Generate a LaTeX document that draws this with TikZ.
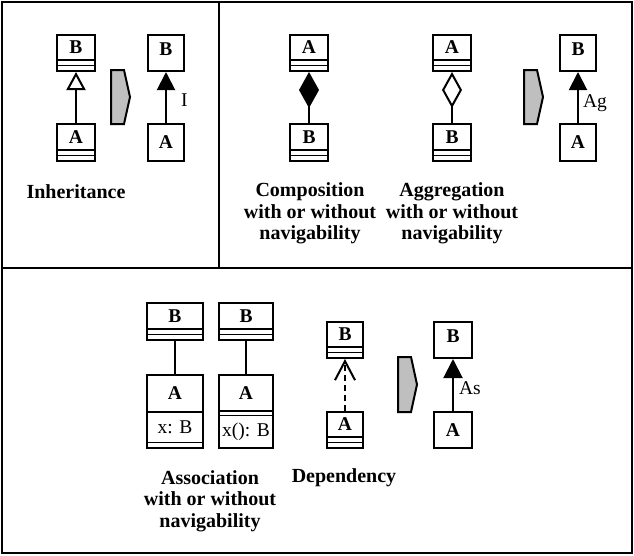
\documentclass[tikz,border=0pt]{standalone}
\usepackage{fontspec}
\setmainfont{Liberation Serif}
\usetikzlibrary{arrows.meta}
\newcommand{\umlclass}[8]{% name, left, top, right, bottom, text, text centre y, compartment lines
  \node[classbox, minimum width={#4-#2}, minimum height={#5-#3}] (#1) at ({(#2+#4)/2},{(#3+#5)/2}) {};
  \node[classname] (#1t) at ({(#2+#4)/2},#7) {#6};
  \foreach \yy in {#8} {\draw[compline] (#2,\yy) -- (#4,\yy);}
}
\begin{document}
\begin{tikzpicture}[x=1pt,y=-1pt,
  line width=2pt,
  classbox/.style={draw, line width=2pt, inner sep=0pt, fill=white},
  classname/.style={font=\bfseries\fontsize{19.5}{19.5}\selectfont, inner sep=0pt},
  compline/.style={line width=1.6pt},
  plain/.style={font=\fontsize{19.5}{21}\selectfont, inner sep=0pt},
  caption/.style={font=\bfseries\fontsize{20}{21.7}\selectfont, align=center, inner sep=0pt},
  grayarrow/.style={draw, fill=black!25, line width=2pt},
  conn/.style={line width=2pt}
]
\useasboundingbox (0,0) rectangle (634,555);
% frames
\draw (1.5,1.5) rectangle (632,553);
\draw (1.5,268) -- (632,268);
\draw (219,1.5) -- (219,268);

% ---------- Inheritance ----------
\umlclass{iB}{57}{35}{95}{71}{B}{47.5}{60,65.5}
\umlclass{iA}{57}{124}{95}{161}{A}{137}{150,155.5}
\draw[conn,-{Triangle[open,length=18pt,width=19pt]}] (iA.north) -- (iB.south);
\draw[grayarrow] (111,70) -- (124,70) -- (130,97) -- (124,124) -- (111,124) -- cycle;
\umlclass{iB2}{148}{35}{184}{71}{B}{49}{}
\umlclass{iA2}{148}{124}{184}{161}{A}{142.5}{}
\draw[conn,-{Triangle[length=18pt,width=18pt]}] (iA2.north) -- (iB2.south) node[plain, pos=0.45, right=14pt] (il) {I};
\node[caption] (inh) at (76,192) {Inheritance};

% ---------- Composition ----------
\umlclass{cA}{290}{35}{328}{71}{A}{47.5}{60,65.5}
\umlclass{cB}{290}{124}{328}{161}{B}{137}{150,155.5}
\draw[conn,{Diamond[length=36pt,width=20pt]}-] (cA.south) -- (cB.north);
\node[caption] (comp) at (310,213.5) {Composition\\with or without\\navigability};

% ---------- Aggregation ----------
\umlclass{gA}{433}{35}{471}{71}{A}{47.5}{60,65.5}
\umlclass{gB}{433}{124}{471}{161}{B}{137}{150,155.5}
\draw[conn,{Diamond[open,length=36pt,width=20pt]}-] (gA.south) -- (gB.north);
\node[caption] (aggr) at (452,213.5) {Aggregation\\with or without\\navigability};

\draw[grayarrow] (524,70) -- (537,70) -- (543,97) -- (537,124) -- (524,124) -- cycle;
\umlclass{rB}{560}{35}{596}{71}{B}{49}{}
\umlclass{rA}{560}{124}{596}{161}{A}{142.5}{}
\draw[conn,-{Triangle[length=18pt,width=18pt]}] (rA.north) -- (rB.south) node[plain, pos=0.38, right=4pt] (agl) {Ag};

% ---------- Association ----------
\umlclass{sB1}{147}{303}{203}{340}{B}{316}{329,334.5}
\umlclass{sA1}{147}{375}{203}{448}{A}{393}{412,442.5}
\node[plain] (sx1) at (175,427) {x: B};
\draw[conn] (sB1.south) -- (sA1.north);

\umlclass{sB2}{219}{303}{273}{340}{B}{316}{329,334.5}
\umlclass{sA2}{219}{375}{273}{448}{A}{393}{411,415.5}
\node[plain] (sx2) at (246,432) {x(): B};
\draw[conn] (sB2.south) -- (sA2.north);
\node[caption] (assoc) at (210,501) {Association\\with or without\\navigability};

% ---------- Dependency ----------
\umlclass{dB}{327}{322}{363}{358}{B}{334.5}{347,352.5}
\umlclass{dA}{327}{412}{363}{448}{A}{424.5}{437,442.5}
\draw[conn,dashed,dash pattern=on 6pt off 4pt,-{Straight Barb[length=19pt,width=20pt]}] (dA.north) -- (dB.south);
\node[caption] (dep) at (344,478) {Dependency};

\draw[grayarrow] (398,357) -- (411,357) -- (417,384.5) -- (411,412) -- (398,412) -- cycle;
\umlclass{aB}{434}{322}{472}{358}{B}{336}{}
\umlclass{aA}{434}{412}{472}{448}{A}{430}{}
\draw[conn,-{Triangle[length=19pt,width=19pt]}] (aA.north) -- (aB.south) node[plain, pos=0.44, right=5pt] (asl) {As};
\end{tikzpicture}
\end{document}
